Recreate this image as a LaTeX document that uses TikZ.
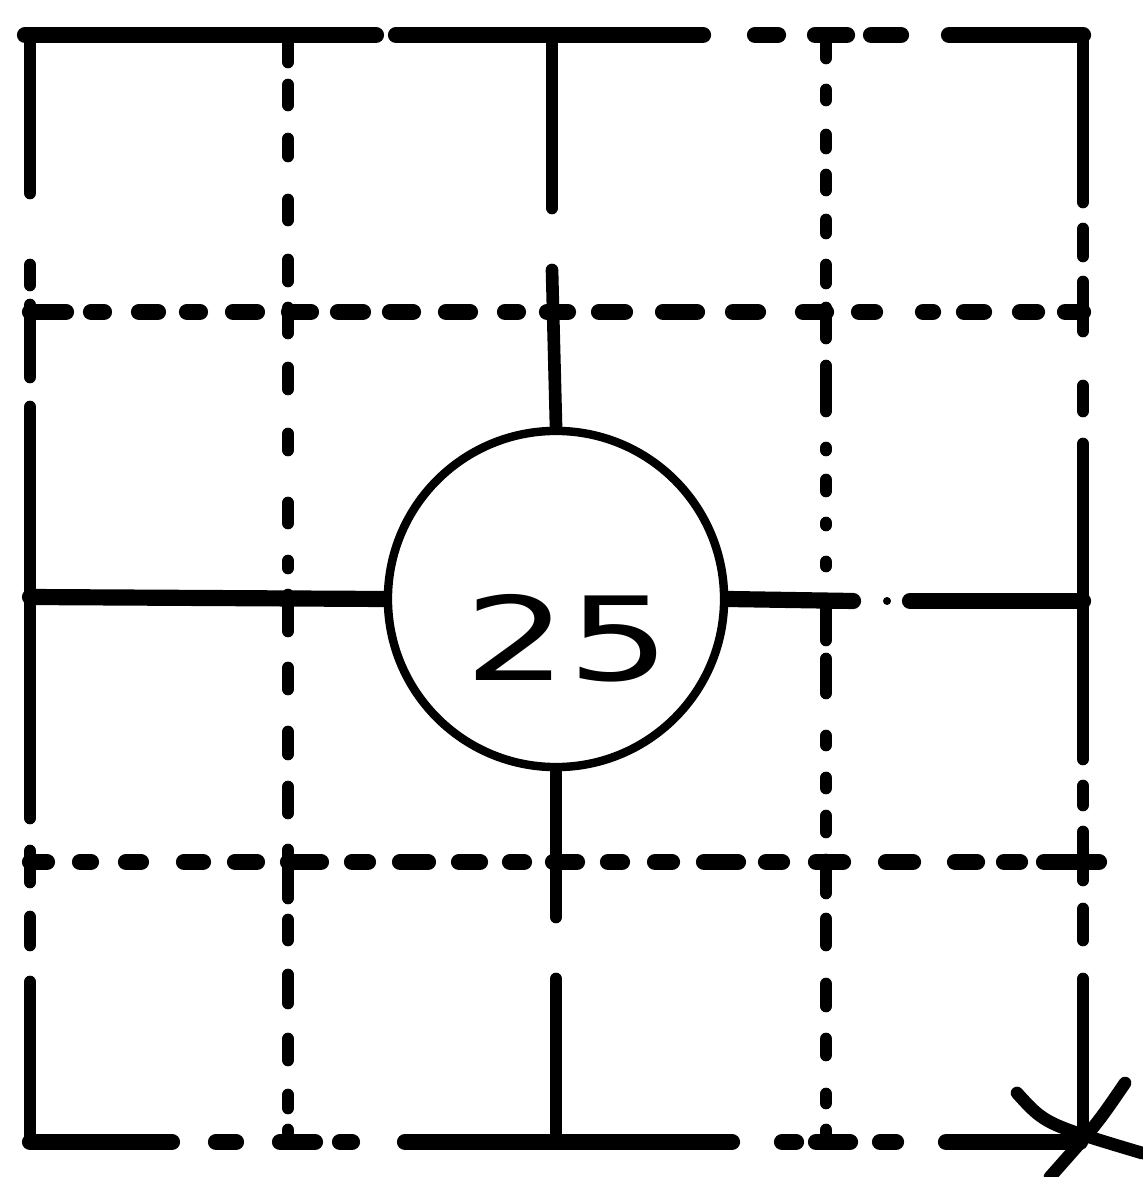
\documentclass[tikz,border=0pt]{standalone}
\usepackage{fontspec}
\newfontfamily\handfont{DejaVu Sans}
\usepackage{graphicx}
\usetikzlibrary{positioning}

\begin{document}
\begin{tikzpicture}[
        x=0.01cm, y=-0.01cm,
        hseg/.style={line width=4.6pt, line cap=round},
        vseg/.style={line width=3.6pt, line cap=round},
        hub/.style={circle, draw, line width=2.4pt,
                    minimum size=3.36cm, inner sep=0pt},
        numlabel/.style={font=\handfont\fontsize{33}{33}\selectfont, inner sep=0pt}
      ]
        \useasboundingbox (0,0) rectangle (1142,1177);
        % Centre circle
        \node[hub] (hub) at (556,599) {};
        \node[numlabel] (num) at (568,638) {\scalebox{1.4}[1]{25}};
        % Spokes ends
        \coordinate (spokeN) at (552,270);
        \coordinate (spokeS) at (556,917);
        \coordinate (spokeW) at (30,597);
        \coordinate (spokeE) at (853,601);
        \draw[vseg] (spokeN) -- (hub.north);
        \draw[vseg] (hub.south) -- (spokeS);
        \draw[hseg] (spokeW) -- (hub.west);
        \draw[hseg] (hub.east) -- (spokeE);
        % Vertical strokes: x / from / to
        \foreach \x/\a/\b in {30/35/193, 30/265/285, 30/305/377, 30/407/818,
            30/851/882, 30/917/945, 30/982/1142,
            288/35/62, 288/85/105, 288/139/156, 288/200/220, 288/260/281,
            288/308/333, 288/368/389, 288/434/450, 288/503/523, 288/561/568,
            288/595/631, 288/668/689, 288/732/754, 288/787/813, 288/850/898,
            288/920/940, 288/975/1003, 288/1039/1060, 288/1095/1108, 288/1130/1142,
            552/35/208, 556/979/1142,
            826/35/58, 826/90/100, 826/135/148, 826/175/190, 826/220/233,
            826/265/283, 826/308/338, 826/366/411, 826/448/450, 826/480/491,
            826/523/525, 826/562/566, 826/603/640, 826/659/693, 826/736/745,
            826/778/788, 826/816/832, 826/860/893, 826/919/945, 826/984/1006,
            826/1039/1055, 826/1094/1103, 826/1130/1142,
            1083/35/202, 1083/229/256, 1083/282/331, 1083/386/411, 1083/444/759,
            1083/786/805, 1083/832/880, 1083/909/940, 1083/979/1132}
          \draw[vseg] (\x,\a) -- (\x,\b);
        % Horizontal strokes: y / from / to
        \foreach \y/\a/\b in {35/25/376, 35/396/703, 35/755/778, 35/815/847,
            35/871/901, 35/949/1083,
            312/30/66, 312/91/104, 312/139/158, 312/187/200, 312/233/257,
            312/289/311, 312/338/363, 312/390/413, 312/446/470, 312/505/518,
            312/547/568, 312/599/625, 312/663/697, 312/733/758, 312/803/826,
            312/859/875, 312/923/933, 312/964/984, 312/1020/1037, 312/1065/1083,
            601/910/1083,
            862/30/47, 862/80/91, 862/126/141, 862/184/203, 862/235/257,
            862/288/321, 862/352/368, 862/400/428, 862/459/480, 862/510/524,
            862/553/577, 862/608/622, 862/655/672, 862/704/738, 862/766/782,
            862/816/843, 862/886/913, 862/955/977, 862/1004/1020, 862/1044/1099,
            1142/30/172, 1142/216/236, 1142/280/315, 1142/340/352, 1142/405/732,
            1142/782/796, 1142/816/850, 1142/880/896, 1142/946/1080}
          \draw[hseg] (\a,\y) -- (\b,\y);
        \fill (887,601) circle (4);
        % Star at the corner
        \draw[vseg] (1017,1093) .. controls (1045,1124) .. (1142,1153);
        \draw[vseg] (1125,1083) .. controls (1097,1124) .. (1050,1177);
      \end{tikzpicture}
\end{document}
